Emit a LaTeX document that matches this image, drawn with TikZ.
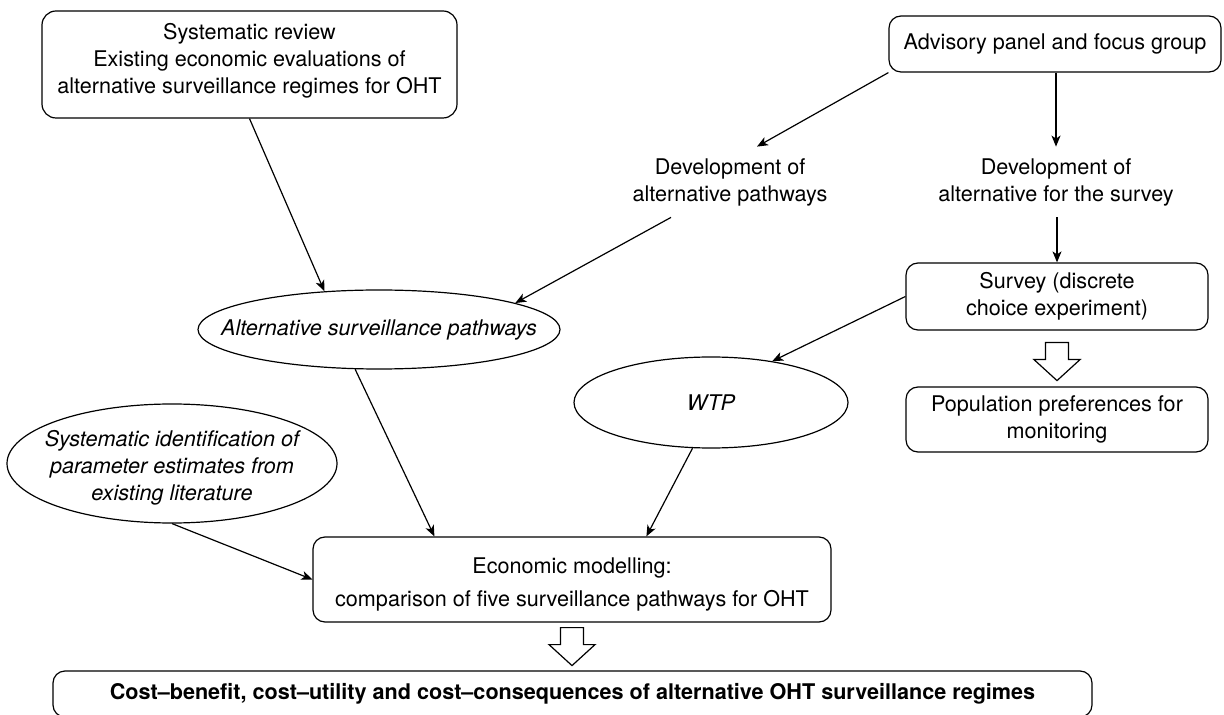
\documentclass[tikz,border=0pt]{standalone}
\usepackage{fontspec}
\setmainfont{TeX Gyre Heros}
\usetikzlibrary{arrows.meta,shapes.geometric,calc}
\begin{document}
\begin{tikzpicture}[x=0.5pt,y=-0.5pt,
  txt/.style={font=\fontsize{10.8}{13.5}\selectfont},
  ital/.style={font=\fontsize{10.8}{13.5}\selectfont\itshape},
  boldtxt/.style={font=\fontsize{10.8}{13.5}\selectfont\bfseries},
  box/.style={draw,rounded corners=6pt,line width=0.6pt,align=center,inner sep=0pt,txt},
  ell/.style={draw,ellipse,line width=0.6pt,inner sep=0pt},
  plain/.style={align=center,inner sep=0pt,txt},
  arr/.style={-{Stealth[length=5.5pt,width=4.5pt,inset=1.5pt]},line width=0.6pt},
  hollow/.pic={\draw[line width=0.6pt,fill=white] (-11.5,0) -- (11.5,0) -- (11.5,17) -- (23,17) -- (0,38) -- (-23,17) -- (-11.5,17) -- cycle;}
]
\useasboundingbox (0,0) rectangle (1224,715);

\node[box, minimum width=207.5pt, minimum height=53.5pt, rounded corners=7pt] (sysrev) at (249.5,64.5)
  {Systematic review\\Existing economic evaluations of\\alternative surveillance regimes for OHT\rule[-5.8pt]{0pt}{0pt}};
\node[box, minimum width=166pt, minimum height=28pt] (adv) at (1055,44) {Advisory panel and focus group};
\node[plain, minimum height=35pt] (devpath) at (730,182) {Development of\\alternative pathways};
\node[plain, minimum height=35pt] (devsurv) at (1056,182) {Development of\\alternative for the survey};
\node[box, minimum width=151pt, minimum height=33.5pt] (survey) at (1057,296.5) {Survey (discrete\\choice experiment)};
\node[box, minimum width=151pt, minimum height=32.5pt] (pop) at (1057,419.5) {Population preferences for\\monitoring};

\node[ell, minimum width=181pt, minimum height=39.5pt] (altp) at (379,329.5) {};
\node[plain, ital] (altpt) at (altp) {Alternative surveillance pathways};
\node[ell, minimum width=137pt, minimum height=45.5pt] (wtp) at (711,402.5) {};
\node[plain, ital] (wtpt) at (wtp) {WTP};
\node[ell, minimum width=165pt, minimum height=59.5pt] (sid) at (172,463.5) {};
\node[plain, ital] (sidt) at (172,468) {Systematic identification of\\parameter estimates from\\existing literature};

\node[box, minimum width=259pt, minimum height=42.5pt] (econ) at (572,579.5)
  {\rule{0pt}{12.4pt}Economic modelling:\\[3pt]comparison of five surveillance pathways for OHT};
\node[box, boldtxt, minimum width=519.5pt, minimum height=23pt] (res) at (572.5,694)
  {Cost–benefit, cost–utility and cost–consequences of alternative OHT surveillance regimes};

\draw[arr] (sysrev.south) -- (altp.145);
\draw[arr] (adv.south west) -- ($(devpath.north)+(27,0)$);
\draw[arr] (devsurv.north |- adv.south) -- (devsurv.north);
\draw[arr] ($(devpath.south)+(-59,0)$) -- (altp.11);
\draw[arr] (devsurv.south -| survey.north) -- (survey.north);
\draw[arr] (survey.west) -- (wtp.34);
\draw[arr] (altp.239) -- ($(econ.north west)+(122,0)$);
\draw[arr] (wtp.248) -- ($(econ.north west)+(334,0)$);
\draw[arr] (sid.south) -- (econ.west);
\pic at ($(econ.south)+(0,5)$) {hollow};
\pic at ($(survey.south)+(0,12)$) {hollow};
\end{tikzpicture}
\end{document}
